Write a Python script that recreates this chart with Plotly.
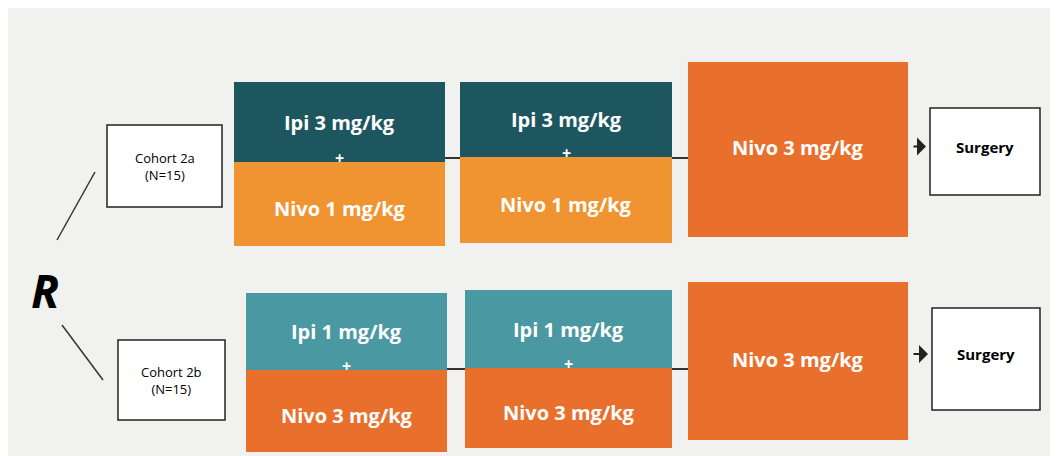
import plotly.graph_objects as go

title = "Follow-up cohorts: high vs low ipilimumab and frontline nivolumab"
cohorts = ["Cohort 2a<br>(N=15)", "Cohort 2b<br>(N=15)"]
ipi_labels = ["Ipi 3 mg/kg", "Ipi 1 mg/kg"]
nivo_combo_labels = ["Nivo 1 mg/kg", "Nivo 3 mg/kg"]
nivo_mono_label = "Nivo 3 mg/kg"
endpoint = "Surgery"

ipi_colors = ["#1e5660", "#4a98a2"]
combo_colors = ["#ef9430", "#e8702c"]
mono_color = "#e8702c"

rows = [
    dict(cb=(107, 125, 222, 207), b1=(234, 82, 162, 246), b2=(460, 82, 157, 243),
         mono=(688, 62, 908, 237), surg=(930, 108, 1040, 195)),
    dict(cb=(118, 340, 225, 420), b1=(246, 293, 370, 452), b2=(465, 290, 368, 448),
         mono=(688, 282, 908, 440), surg=(932, 308, 1040, 410)),
]
widths = [[211, 212], [201, 207]]

fig = go.Figure()
shapes, ann = [], []
def rect(x0, y0, x1, y1, fill, line=None):
    shapes.append(dict(type="rect", x0=x0, y0=y0, x1=x1, y1=y1, fillcolor=fill,
                       line=dict(color=line or fill, width=1.5 if line else 0), layer="below"))
def text(x, y, t, size, color="black", bold=True):
    ann.append(dict(x=x, y=y, text=f"<b>{t}</b>" if bold else t, showarrow=False,
                    font=dict(size=size, color=color, family="Open Sans")))

for i, r in enumerate(rows):
    x0, y0, x1, y1 = r["cb"]
    rect(x0, y0, x1, y1, "white", "#222")
    text((x0+x1)/2, (y0+y1)/2, cohorts[i], 13, bold=False)
    for j, key in enumerate(["b1", "b2"]):
        bx, ty, my, by = r[key]
        w = widths[i][j]
        rect(bx, ty, bx+w, my, ipi_colors[i])
        rect(bx, my, bx+w, by, combo_colors[i])
        text(bx+w/2, ty+(my-ty)*0.5, ipi_labels[i], 20, "white")
        text(bx+w/2, my-4, "+", 16, "white")
        text(bx+w/2, my+(by-my)*0.55, nivo_combo_labels[i], 20, "white")
    b1x = r["b1"][0] + widths[i][0]
    cy = r["b2"][2] + 1
    shapes.append(dict(type="line", x0=b1x, x1=r["b2"][0], y0=cy, y1=cy, line=dict(color="#333", width=2)))
    b2x = r["b2"][0] + widths[i][1]
    shapes.append(dict(type="line", x0=b2x, x1=r["mono"][0], y0=cy, y1=cy, line=dict(color="#333", width=2)))
    mx0, my0, mx1, my1 = r["mono"]
    rect(mx0, my0, mx1, my1, mono_color)
    text((mx0+mx1)/2, (my0+my1)/2 - 2, nivo_mono_label, 20, "white")
    sx0, sy0, sx1, sy1 = r["surg"]
    rect(sx0, sy0, sx1, sy1, "white", "#222")
    text((sx0+sx1)/2, (sy0+sy1)/2 - 5, endpoint, 15)
    ay = (sy0+sy1)/2 - 5
    ann.append(dict(x=sx0-4, y=ay, ax=mx1+4, ay=ay, xref="x", yref="y", axref="x", ayref="y",
                    showarrow=True, arrowhead=1, arrowsize=1.5, arrowwidth=2, arrowcolor="#222", text=""))

shapes.append(dict(type="line", x0=57, y0=240, x1=95, y1=172, line=dict(color="#333", width=1.5)))
shapes.append(dict(type="line", x0=62, y0=325, x1=103, y1=380, line=dict(color="#333", width=1.5)))
text(45, 290, "<i>R</i>", 46)
ann.append(dict(x=4, y=22, text="<b>" + title + "</b>", showarrow=False, xanchor="left",
                font=dict(size=25, color="black", family="Open Sans")))

fig.update_layout(width=1058, height=456, margin=dict(l=0, r=0, t=0, b=0),
                  paper_bgcolor="#f1f1ef", plot_bgcolor="#f1f1ef",
                  xaxis=dict(range=[8, 1066], visible=False, fixedrange=True),
                  yaxis=dict(range=[464, 8], visible=False, fixedrange=True),
                  shapes=shapes, annotations=ann, showlegend=False)
fig.write_html("out.html")
